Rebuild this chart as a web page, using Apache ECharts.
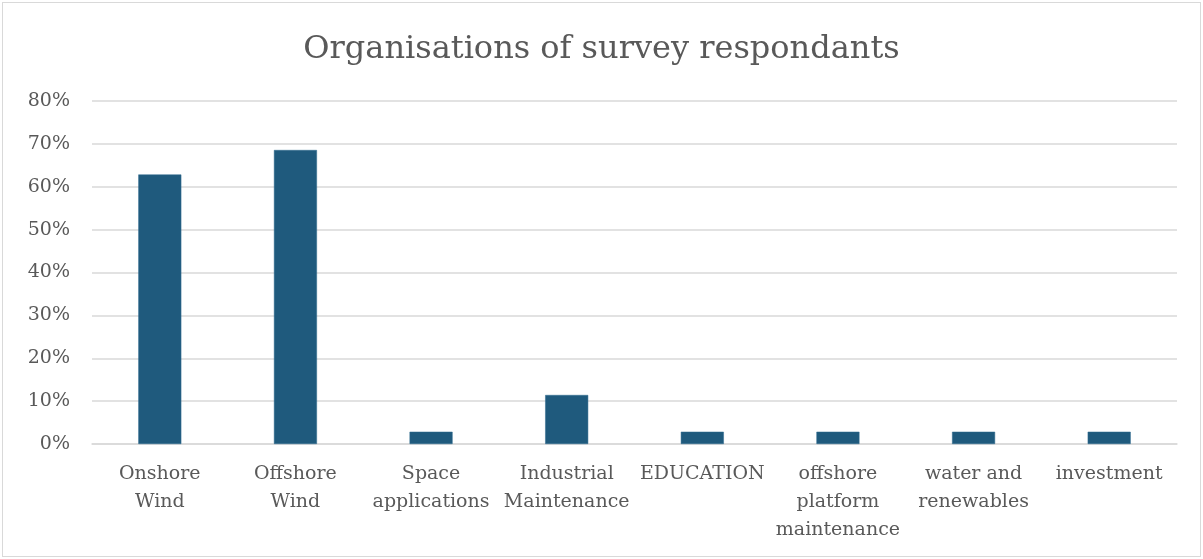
<!DOCTYPE html>
<html>
<head>
<meta charset="utf-8">
<script src="https://cdn.jsdelivr.net/npm/echarts@6/dist/echarts.min.js"></script>
<style>
  html, body { margin: 0; padding: 0; background: #fff; }
  #frame { position: absolute; left: 2px; top: 2px; width: 1199px; height: 555px; border: 1px solid #d9d9d9; box-sizing: border-box; }
  #chart { width: 1203px; height: 559px; }
</style>
</head>
<body>
<div id="frame"></div>
<div id="chart"></div>
<script>
// Share of respondents by organisation type (35 responses)
const categories = [
  'Onshore Wind', 'Offshore Wind', 'Space applications', 'Industrial Maintenance',
  'EDUCATION', 'offshore platform maintenance', 'water and renewables', 'investment'
];
const tickLabels = [
  'Onshore\nWind', 'Offshore\nWind', 'Space\napplications', 'Industrial\nMaintenance',
  'EDUCATION', 'offshore\nplatform\nmaintenance', 'water and\nrenewables', 'investment'
];
const shares = [0.6286, 0.6857, 0.0286, 0.1143, 0.0286, 0.0286, 0.0286, 0.0286];
const yTicks = [0, 0.1, 0.2, 0.3, 0.4, 0.5, 0.6, 0.7, 0.8];

const FONT = '"DejaVu Serif", "Liberation Serif", serif';
const chart = echarts.init(document.getElementById('chart'), null, { renderer: 'canvas' });
chart.setOption({
  animation: false,
  title: {
    text: 'Organisations of survey respondants',
    left: 'center',
    top: 29,
    textStyle: { fontFamily: FONT, fontSize: 32, fontWeight: 'normal', color: '#595959' }
  },
  grid: { left: 92, right: 26, top: 101, bottom: 115, containLabel: false },
  xAxis: {
    type: 'category',
    data: categories,
    axisLine: { lineStyle: { color: '#d9d9d9', width: 1.5 } },
    axisTick: { show: false },
    axisLabel: {
      interval: 0,
      margin: 16,
      lineHeight: 28,
      fontFamily: FONT,
      fontSize: 19,
      color: '#595959',
      formatter: (v, i) => tickLabels[i]
    }
  },
  yAxis: {
    type: 'value',
    min: yTicks[0],
    max: yTicks[yTicks.length - 1],
    interval: 0.1,
    axisLine: { show: false },
    axisTick: { show: false },
    splitLine: { lineStyle: { color: '#d9d9d9', width: 1.5 } },
    axisLabel: {
      margin: 22,
      fontFamily: FONT,
      fontSize: 19,
      color: '#595959',
      formatter: v => Math.round(v * 100) + '%'
    }
  },
  series: [{
    type: 'bar',
    data: shares,
    barWidth: 43,
    itemStyle: { color: '#1f5a7d', borderColor: '#2e6a8e', borderWidth: 0.5 }
  }]
});
</script>
</body>
</html>
